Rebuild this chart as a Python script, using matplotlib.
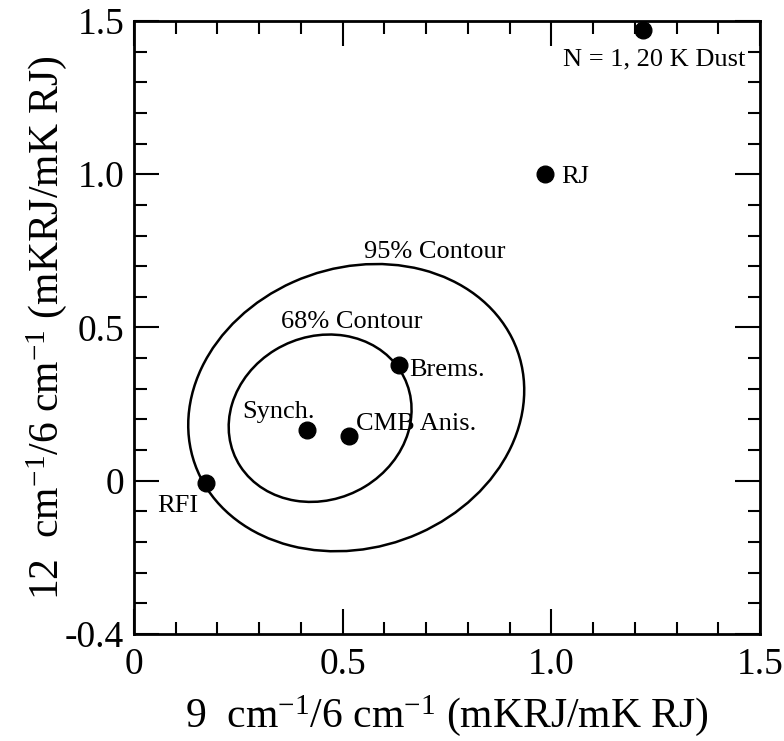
import numpy as np
import matplotlib
matplotlib.use("Agg")
import matplotlib.pyplot as plt
from matplotlib.patches import Ellipse
from matplotlib.ticker import MultipleLocator, FixedLocator

plt.rcParams['font.family'] = ['Liberation Serif', 'DejaVu Serif']
plt.rcParams['mathtext.fontset'] = 'custom'
plt.rcParams['mathtext.rm'] = 'Liberation Serif'
plt.rcParams['mathtext.it'] = 'Liberation Serif:italic'

# source points (ratio of 9 cm-1 band, ratio of 12 cm-1 band)
names = ["N = 1, 20 K Dust", "RJ", "Brems.", "Synch.", "CMB Anis.", "RFI"]
x_ratio = [1.22, 0.985, 0.634, 0.414, 0.516, 0.173]
y_ratio = [1.47, 1.0, 0.378, 0.164, 0.145, -0.007]

# confidence contours: centre, full axes, angle (deg)
contour_names = ["68% Contour", "95% Contour"]
contour_center = [(0.446, 0.204), (0.5325, 0.2385)]
contour_width = [0.551, 0.954]
contour_height = [0.432, 0.785]
contour_angle = [77.6, 70.75]

x_ticks = [0, 0.5, 1.0, 1.5]
x_ticklabels = ["0", "0.5", "1.0", "1.5"]
y_ticks = [-0.5, 0, 0.5, 1.0, 1.5]
y_ticklabels = ["-0.4", "0", "0.5", "1.0", "1.5"]

# where each label sits (baseline, left edge)
label_xy = [(1.027, 1.355), (1.024, 0.970), (0.660, 0.342),
            (0.260, 0.204), (0.533, 0.164), (0.055, -0.102)]
contour_label_xy = [(0.352, 0.497), (0.552, 0.727)]

fig = plt.figure(figsize=(7.84, 7.41), dpi=100)
ax = fig.add_axes([0.1709, 0.1444, 0.7985, 0.8273])

for c, w, h, a in zip(contour_center, contour_width, contour_height, contour_angle):
    ax.add_patch(Ellipse(c, w, h, angle=a, fill=False, lw=1.8, ec='k'))

ax.plot(x_ratio, y_ratio, 'o', ms=12, color='k', clip_on=False, zorder=5)

for name, (lx, ly) in zip(names, label_xy):
    ax.text(lx, ly, name, fontsize=19, ha='left', va='baseline')
for name, (lx, ly) in zip(contour_names, contour_label_xy):
    ax.text(lx, ly, name, fontsize=19, ha='left', va='baseline')

ax.set_xlim(0, 1.5)
ax.set_ylim(-0.5, 1.5)
ax.xaxis.set_major_locator(FixedLocator(x_ticks))
ax.set_xticklabels(x_ticklabels)
ax.yaxis.set_major_locator(FixedLocator(y_ticks))
ax.set_yticklabels(y_ticklabels)
ax.xaxis.set_minor_locator(MultipleLocator(0.1))
ax.yaxis.set_minor_locator(MultipleLocator(0.1))

ax.tick_params(which='both', direction='in', top=True, right=True, width=1.5, labelsize=27)
ax.tick_params(which='major', length=18)
ax.tick_params(which='minor', length=9)
ax.tick_params(axis='x', which='major', pad=10)
ax.tick_params(axis='y', which='major', pad=7)
for s in ax.spines.values():
    s.set_linewidth(2)

ax.set_xlabel(r"9  cm$^{-1}$/6 cm$^{-1}$ (mKRJ/mK RJ)", fontsize=30, labelpad=8)
ax.set_ylabel(r"12  cm$^{-1}$/6 cm$^{-1}$ (mKRJ/mK RJ)", fontsize=30, labelpad=-3)

fig.savefig("out.png", dpi=100)
